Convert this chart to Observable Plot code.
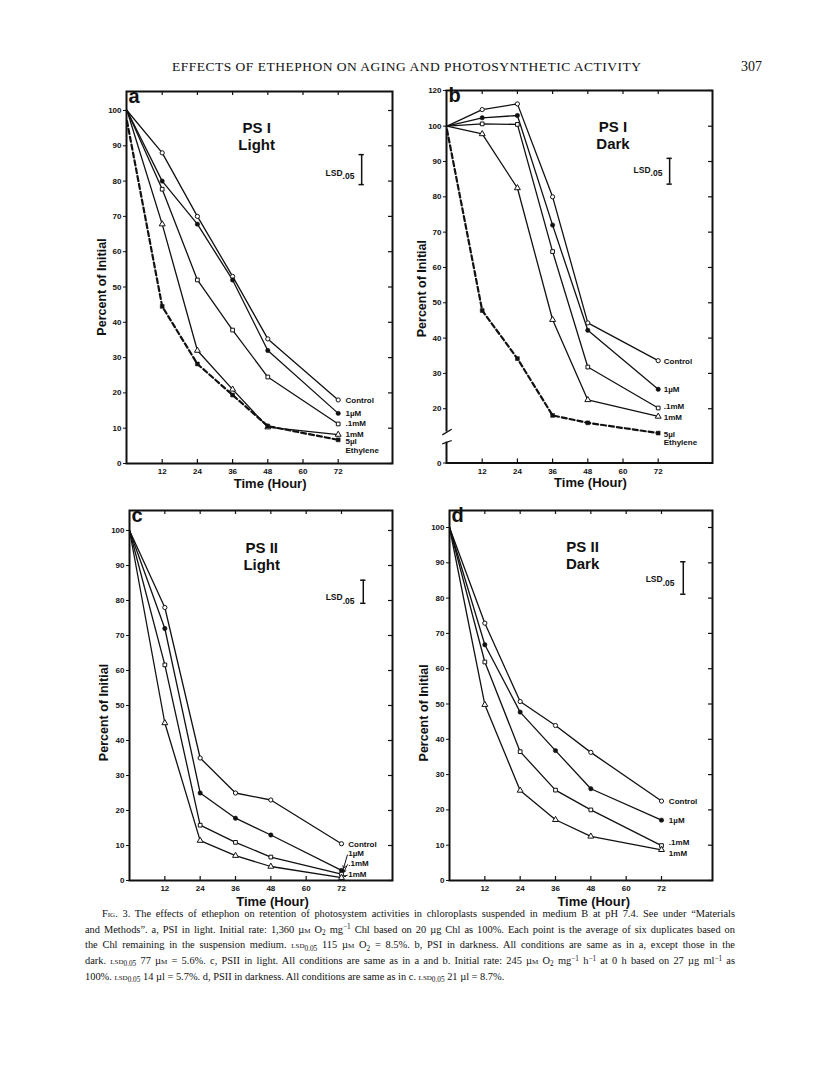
<!DOCTYPE html>
<html>
<head>
<meta charset="utf-8">
<script src="https://cdn.jsdelivr.net/npm/d3@7"></script>
<script src="https://cdn.jsdelivr.net/npm/@observablehq/plot@0.6"></script>
<style>
  html, body { margin: 0; padding: 0; background: #fff; }
  body { width: 816px; height: 1073px; position: relative; overflow: hidden; font-family: "Liberation Serif", serif; color: #111; }
  .panel { position: absolute; }
  .panel svg { overflow: visible; }
  #header { position: absolute; left: 172px; top: 59px; font-size: 13.5px; line-height: 16px; white-space: nowrap; }
  #pageno { position: absolute; left: 741px; top: 59px; font-size: 14px; line-height: 16px; }
  #caption { position: absolute; left: 85px; top: 906px; width: 650px; font-size: 10.4px; }
  .capline { white-space: nowrap; height: 15.7px; line-height: 15.7px; }
  .capline.first { padding-left: 17px; }
  .sc { font-variant: small-caps; }
  sub, sup { font-size: 0.7em; line-height: 0; position: relative; vertical-align: baseline; }
  sub { top: 0.3em; }
  sup { top: -0.45em; }
</style>
</head>
<body>
<div id="header">EFFECTS OF ETHEPHON ON AGING AND PHOTOSYNTHETIC ACTIVITY</div>
<div id="pageno">307</div>
<div id="pa" class="panel"></div>
<div id="pb" class="panel"></div>
<div id="pc" class="panel"></div>
<div id="pd" class="panel"></div>
<div id="caption">
  <div class="capline first"><span class="sc">Fig</span>. 3. The effects of ethephon on retention of photosystem activities in chloroplasts suspended in medium B at pH 7.4. See under “Materials</div>
  <div class="capline">and Methods”. a, PSI in light. Initial rate: 1,360 µ<span class="sc">m</span> O<sub>2</sub> mg<sup>−1</sup> Chl based on 20 µg Chl as 100%. Each point is the average of six duplicates based on</div>
  <div class="capline">the Chl remaining in the suspension medium. <span class="sc">lsd</span><sub>0.05</sub> 115 µ<span class="sc">m</span> O<sub>2</sub> = 8.5%. b, PSI in darkness. All conditions are same as in a, except those in the</div>
  <div class="capline">dark. <span class="sc">lsd</span><sub>0.05</sub> 77 µ<span class="sc">m</span> = 5.6%. c, PSII in light. All conditions are same as in a and b. Initial rate: 245 µ<span class="sc">m</span> O<sub>2</sub> mg<sup>−1</sup> h<sup>−1</sup> at 0 h based on 27 µg ml<sup>−1</sup> as</div>
  <div class="capline last">100%. <span class="sc">lsd</span><sub>0.05</sub> 14 µl = 5.7%. d, PSII in darkness. All conditions are same as in c. <span class="sc">lsd</span><sub>0.05</sub> 21 µl = 8.7%.</div>
</div>
<script>
// ---------------- DATA ----------------
const hours = [0, 12, 24, 36, 48, 72];
const xTickHours = [12, 24, 36, 48, 60, 72];
const yTicksStd = [0, 10, 20, 30, 40, 50, 60, 70, 80, 90, 100];
const yTicksB = [0, 20, 30, 40, 50, 60, 70, 80, 90, 100, 120];
const seriesNames = ["Control", "1µM", ".1mM", "1mM", "5µl\nEthylene"];
const seriesMarkers = ["openCircle", "filledCircle", "openSquare", "openTriangle", "filledSquare"];

// a: PS I, Light (percent of initial)
const aControl  = [100, 88, 70, 53, 35.3, 18];
const aMicro1   = [100, 80, 67.8, 52, 32, 14.2];
const aMilli01  = [100, 77.7, 52, 37.8, 24.5, 11.2];
const aMilli1   = [100, 67.8, 32, 21, 10.3, 8.2];
const aEthylene = [97, 44.5, 28.2, 19.4, 10.6, 6.7];

// b: PS I, Dark
const bControl  = [100, 109.3, 112.5, 80, 44.3, 33.6];
const bMicro1   = [100, 104.7, 106, 72, 42.2, 25.5];
const bMilli01  = [100, 101.3, 101, 64.5, 31.8, 20.2];
const bMilli1   = [100, 97.8, 82.5, 45.2, 22.5, 17.8];
const bEthylene = [99, 47.8, 34.2, 18.1, 16, 13.1];

// c: PS II, Light
const cControl  = [100, 78, 35, 25, 23, 10.5];
const cMicro1   = [100, 72, 25, 17.8, 13, 2.9];
const cMilli01  = [100, 61.6, 15.8, 10.9, 6.7, 1.8];
const cMilli1   = [100, 45, 11.4, 7.1, 4, 0.8];

// d: PS II, Dark
const dControl  = [100, 72.9, 50.7, 43.9, 36.3, 22.5];
const dMicro1   = [100, 66.8, 47.7, 36.8, 26, 17.1];
const dMilli01  = [100, 61.9, 36.5, 25.6, 20, 9.9];
const dMilli1   = [100, 49.8, 25.5, 17.2, 12.5, 8.7];

// LSD.05 bars [low, high]
const lsdA = [79, 87.5];
const lsdB = [83.6, 90.9];
const lsdC = [79.2, 85.8];
const lsdD = [81.1, 90.3];

// panel b has a broken (piecewise) value axis: stops of the printed axis
const bAxisStops = [0, 11, 100, 120];
const bAxisStopHeights = [0, 22.5, 336.8, 372.5];

// ---------------- LAYOUT ----------------
const bBreak = d3.scaleLinear().domain(bAxisStops).range(bAxisStopHeights);
const identity = v => v;

const panels = [
  { id: "pa", letter: "a", title: "PS I\nLight", left: 80, top: 85, width: 320, height: 410,
    mL: 46, mT: 6, mR: 8, mB: 32, xRange: [46.5, 257.7], y: { domain: [0, 100], range: [378, 25] }, fwd: identity,
    yTicks: yTicksStd, series: [aControl, aMicro1, aMilli01, aMilli1, aEthylene], lsd: lsdA,
    titlePos: [44.2, 88.7], lsdX: 80, lsdLabel: [73.5, 81.5], labelX: 74.5,
    labelY: [18, 14.2, 11.3, 8.4, 5.0], yTitleAt: 50, xTitleAt: 48.8, xTitleDy: 20, yTitleDx: -25, arrows: false },
  { id: "pb", letter: "b", title: "PS I\nDark", left: 400, top: 85, width: 320, height: 410,
    mL: 46, mT: 5, mR: 8, mB: 32.5, xRange: [46.5, 257.7],
    y: { transform: bBreak, domain: [0, 372.5], range: [377.5, 5] }, fwd: bBreak,
    yTicks: yTicksB, series: [bControl, bMicro1, bMilli01, bMilli1, bEthylene], lsd: lsdB,
    titlePos: [56.6, 93.6], lsdX: 75.9, lsdLabel: [69.4, 86.8], labelX: 73.9,
    labelY: [33.6, 25.4, 20.6, 17.6, 11.65], yTitleAt: 54, xTitleAt: 48.9, xTitleDy: 20, yTitleDx: -25, arrows: false,
    yBreak: [10.2, 13.4] },
  { id: "pc", letter: "c", title: "PS II\nLight", left: 80, top: 505, width: 320, height: 410,
    mL: 49, mT: 5, mR: 8, mB: 35, xRange: [49, 261], y: { domain: [0, 100], range: [375, 25] }, fwd: identity,
    yTicks: yTicksStd, series: [cControl, cMicro1, cMilli01, cMilli1], lsd: lsdC,
    titlePos: [44.9, 88.6], lsdX: 79.4, lsdLabel: [72.4, 80.1], labelX: 74.3,
    labelY: [10.3, 7.7, 4.9, 1.9], yTitleAt: 48, xTitleAt: 48.6, xTitleDy: 21, yTitleDx: -26, arrows: true },
  { id: "pd", letter: "d", title: "PS II\nDark", left: 400, top: 505, width: 320, height: 410,
    mL: 49, mT: 5, mR: 8, mB: 35, xRange: [49, 261], y: { domain: [0, 100], range: [375, 22] }, fwd: identity,
    yTicks: yTicksStd, series: [dControl, dMicro1, dMilli01, dMilli1], lsd: lsdD,
    titlePos: [45.2, 88.3], lsdX: 79.4, lsdLabel: [72.4, 84.5], labelX: 74.5,
    labelY: [22.5, 17.2, 10.8, 7.7], yTitleAt: 47.5, xTitleAt: 49, xTitleDy: 21, yTitleDx: -26, arrows: false }
];

const FONT = "Liberation Sans, Arial, Helvetica, sans-serif";

function buildPanel(p) {
  const rows = [];
  p.series.forEach((vals, si) => vals.forEach((v, i) => rows.push({
    series: seriesNames[si], marker: seriesMarkers[si], hour: hours[i], value: v
  })));
  const labels = p.series.map((vals, si) => ({ text: seriesNames[si], y: p.labelY[si], last: vals[vals.length - 1] }));
  const plotW = p.width - p.mL - p.mR;
  const plotH = p.height - p.mT - p.mB;
  const solid = rows.filter(d => d.marker !== "filledSquare");
  const dashed = rows.filter(d => d.marker === "filledSquare");
  const bymk = m => rows.filter(d => d.marker === m && d.hour > 0);
  const cap = 0.9;
  // axis ticks are given in the scale's (transformed) space, labelled with printed values
  const tickPos = p.yTicks.map(p.fwd);
  const tickLabel = new Map(tickPos.map((t, i) => [t, String(p.yTicks[i])]));

  const marks = [
    Plot.frame({ stroke: "#111", strokeWidth: 2 }),
    Plot.axisY({ ticks: tickPos, tickFormat: t => tickLabel.get(t), tickSize: 3, tickPadding: 2, label: null, fontSize: 8, fontWeight: "bold" }),
    Plot.ruleY(p.yTicks, { y: d => d, insetLeft: plotW - 4, stroke: "#111", strokeWidth: 1.2 }),
    Plot.axisX({ ticks: xTickHours, tickSize: 0, tickPadding: 5, label: null, fontSize: 8, fontWeight: "bold" }),
    Plot.ruleX(xTickHours, { x: d => d, insetBottom: plotH - 4, stroke: "#111", strokeWidth: 1.2 }),
    Plot.ruleX(xTickHours, { x: d => d, insetTop: plotH - 4, stroke: "#111", strokeWidth: 1.2 }),
  ];
  if (p.yBreak) {
    marks.push(Plot.ruleX([0], { y1: p.yBreak[0], y2: p.yBreak[1], stroke: "white", strokeWidth: 5, dx: -0.5 }));
    marks.push(Plot.link(p.yBreak, { x1: -1.6, x2: 1.6, y1: d => d - 0.8, y2: d => d + 0.8, stroke: "#111", strokeWidth: 1.3 }));
  }
  marks.push(
    Plot.line(solid, { x: "hour", y: "value", z: "series", stroke: "#111", strokeWidth: 1.3 }),
    Plot.line(dashed, { x: "hour", y: "value", stroke: "#111", strokeWidth: 2.2, strokeDasharray: "5,3" }),
    Plot.dot(bymk("openCircle"), { x: "hour", y: "value", symbol: "circle", r: 2.1, fill: "white", stroke: "#111", strokeWidth: 1 }),
    Plot.dot(bymk("filledCircle"), { x: "hour", y: "value", symbol: "circle", r: 2.2, fill: "#111", stroke: "#111", strokeWidth: 0.5 }),
    Plot.dot(bymk("openSquare"), { x: "hour", y: "value", symbol: "square", r: 2.1, fill: "white", stroke: "#111", strokeWidth: 1 }),
    Plot.dot(bymk("openTriangle"), { x: "hour", y: "value", symbol: "triangle", r: 2.2, fill: "white", stroke: "#111", strokeWidth: 1 }),
    Plot.dot(bymk("filledSquare"), { x: "hour", y: "value", symbol: "square", r: 2.2, fill: "#111", stroke: "#111", strokeWidth: 0.5 }),
    Plot.text(labels, { x: p.labelX, y: "y", text: "text", textAnchor: "start", lineAnchor: "middle", lineHeight: 1.1,
      fontSize: 8, fontWeight: "bold", fill: "#111" }),
    Plot.text([p.letter], { frameAnchor: "top-left", dx: 2, dy: 11, lineAnchor: "bottom", fontSize: 20, fontWeight: "bold", fill: "#111" }),
    Plot.text([p.title], { x: p.titlePos[0], y: p.titlePos[1], lineAnchor: "bottom", lineHeight: 1.13, fontSize: 15, fontWeight: "bold", fill: "#111" }),
    Plot.ruleX([p.lsdX], { x: d => d, y1: p.lsd[0], y2: p.lsd[1], stroke: "#111", strokeWidth: 1.5 }),
    Plot.ruleY(p.lsd, { y: d => d, x1: p.lsdX - cap, x2: p.lsdX + cap, stroke: "#111", strokeWidth: 1.5 }),
    Plot.text(["LSD"], { x: p.lsdLabel[0], y: p.lsdLabel[1], textAnchor: "end", lineAnchor: "bottom", fontSize: 8.5, fontWeight: "bold", fill: "#111" }),
    Plot.text([".05"], { x: p.lsdLabel[0], y: p.lsdLabel[1], textAnchor: "start", lineAnchor: "bottom", dy: 3.5, fontSize: 8.5, fontWeight: "bold", fill: "#111" }),
    Plot.text(["Time (Hour)"], { x: p.xTitleAt, frameAnchor: "bottom", dy: p.xTitleDy, lineAnchor: "middle", textAnchor: "middle", fontSize: 13, fontWeight: "bold", fill: "#111" }),
    Plot.text(["Percent of Initial"], { y: p.yTitleAt, frameAnchor: "left", dx: p.yTitleDx, rotate: -90, textAnchor: "middle", lineAnchor: "middle", fontSize: 12.5, fontWeight: "bold", fill: "#111" })
  );
  if (p.arrows) {
    const arr = labels.slice(1).map(l => ({ x1: p.labelX - 0.3, y1: l.y - 0.4, x2: 72.6, y2: l.last + 0.3 }));
    marks.push(Plot.arrow(arr, { x1: "x1", y1: "y1", x2: "x2", y2: "y2", stroke: "#111", strokeWidth: 1, headLength: 4, insetEnd: 1 }));
  }
  const chart = Plot.plot({
    width: p.width, height: p.height,
    marginLeft: p.mL, marginTop: p.mT, marginRight: p.mR, marginBottom: p.mB,
    x: { domain: [0, 72], range: p.xRange },
    y: p.y,
    style: { fontFamily: FONT, fontSize: "8px", fontWeight: "bold", color: "#111", background: "transparent", overflow: "visible" },
    marks
  });
  const el = document.getElementById(p.id);
  el.style.left = p.left + "px";
  el.style.top = p.top + "px";
  el.appendChild(chart);
}

panels.forEach(buildPanel);

(function () {
  const h = document.getElementById("header");
  const target = 469;
  const w = h.getBoundingClientRect().width;
  const n = h.textContent.length - 1;
  h.style.letterSpacing = ((target - w) / n) + "px";
})();

(function () {
  const lines = document.querySelectorAll(".capline");
  lines.forEach((ln) => {
    if (ln.classList.contains("last")) return;
    const target = ln.classList.contains("first") ? 633 : 650;
    const span = document.createElement("span");
    while (ln.firstChild) span.appendChild(ln.firstChild);
    ln.appendChild(span);
    const w = span.getBoundingClientRect().width;
    const spaces = (span.textContent.match(/ /g) || []).length;
    if (spaces > 0) span.style.wordSpacing = ((target - w) / spaces) + "px";
  });
})();
</script>
</body>
</html>
